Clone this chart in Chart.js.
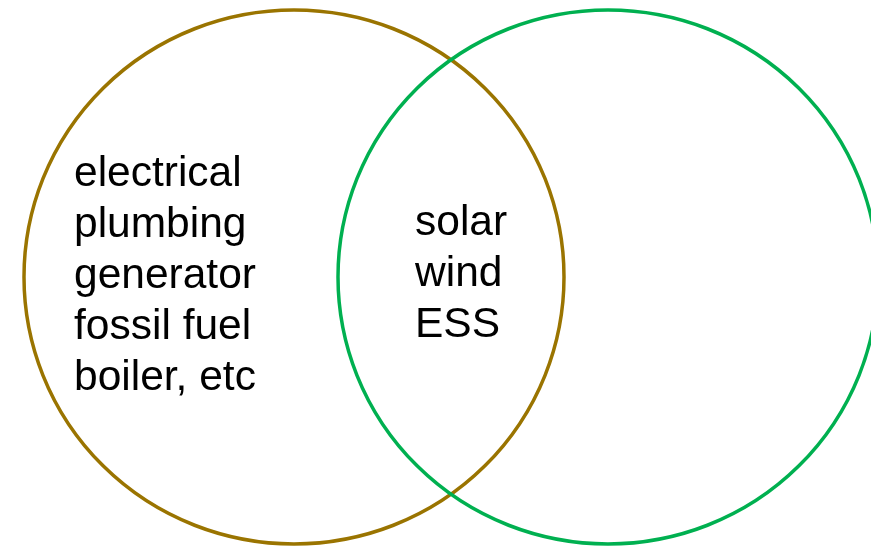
<!DOCTYPE html>
<html>
<head>
<meta charset="utf-8">
<style>
  html, body { margin: 0; padding: 0; background: #ffffff; }
  #wrap { width: 871px; height: 549px; position: relative; }
</style>
<script src="https://cdn.jsdelivr.net/npm/chart.js@4/dist/chart.umd.min.js"></script>
</head>
<body>
<div id="wrap"><canvas id="venn"></canvas></div>
<script>
( function () {
    'use strict';

    // sets: centre (x, y) and radii in drawing units (1 unit = 1 px here)
    var setNames   = [ 'conventional', 'renewable' ];
    var circleX    = [ 294, 608 ];
    var circleY    = [ 277, 277 ];
    var circleRx   = [ 270, 270 ];
    var circleRy   = [ 267, 267 ];
    var setColors  = [ '#9a7400', '#00b050' ];

    // text blocks: left set only, and the overlap
    var leftLines    = [ 'electrical', 'plumbing', 'generator', 'fossil fuel', 'boiler, etc' ];
    var overlapLines = [ 'solar', 'wind', 'ESS' ];
    var textBlocks = [
        { lines: leftLines,    x: 74,  y: 186 },
        { lines: overlapLines, x: 415, y: 235 },
    ];
    var lineStep = 51;

    // bubble/scatter controllers pad the chart area by the point size,
    // so the circles are stroked here from the scaled data instead
    var vennCircles = {
        id: 'vennCircles',
        afterDatasetsDraw: function ( chart ) {
            var ctx = chart.ctx;
            var xs = chart.scales.x, ys = chart.scales.y;
            var area = chart.chartArea;
            ctx.save();
            ctx.beginPath();
            ctx.rect( area.left, area.top, area.right - area.left, area.bottom - area.top );
            ctx.clip();
            chart.data.datasets.forEach( function ( ds ) {
                ds.data.forEach( function ( p ) {
                    var cx = xs.getPixelForValue( p.x );
                    var cy = ys.getPixelForValue( p.y );
                    var rx = xs.getPixelForValue( p.x + p.rx ) - cx;
                    var ry = ys.getPixelForValue( p.y + p.ry ) - cy;
                    ctx.beginPath();
                    ctx.ellipse( cx, cy, Math.abs( rx ), Math.abs( ry ), 0, 0, Math.PI * 2 );
                    ctx.lineWidth = ds.borderWidth;
                    ctx.strokeStyle = ds.borderColor;
                    ctx.stroke();
                } );
            } );
            ctx.restore();
        }
    };

    var vennText = {
        id: 'vennText',
        afterDatasetsDraw: function ( chart ) {
            var ctx = chart.ctx;
            var xs = chart.scales.x, ys = chart.scales.y;
            ctx.save();
            ctx.fillStyle = '#000000';
            ctx.font = '42.5px "Liberation Sans", Arial, sans-serif';
            ctx.textAlign = 'left';
            ctx.textBaseline = 'alphabetic';
            textBlocks.forEach( function ( b ) {
                b.lines.forEach( function ( t, i ) {
                    ctx.fillText( t, xs.getPixelForValue( b.x ), ys.getPixelForValue( b.y + i * lineStep ) );
                } );
            } );
            ctx.restore();
        }
    };

    var datasets = setNames.map( function ( name, i ) {
        return {
            label: name,
            data: [ { x: circleX[ i ], y: circleY[ i ], rx: circleRx[ i ], ry: circleRy[ i ] } ],
            borderColor: setColors[ i ],
            backgroundColor: 'rgba(0,0,0,0)',
            borderWidth: 3.5,
            pointRadius: 0,
            pointHoverRadius: 0,
        };
    } );

    new Chart( document.getElementById( 'venn' ), {
        type: 'scatter',
        data: { datasets: datasets },
        options: {
            responsive: true,
            maintainAspectRatio: false,
            animation: false,
            events: [],
            layout: { padding: 0 },
            plugins: {
                legend: { display: false },
                tooltip: { enabled: false },
            },
            scales: {
                x: { type: 'linear', min: 0, max: 871, display: false },
                y: { type: 'linear', min: 0, max: 549, reverse: true, display: false },
            },
        },
        plugins: [ vennCircles, vennText ],
    } );
} )();
</script>
</body>
</html>
